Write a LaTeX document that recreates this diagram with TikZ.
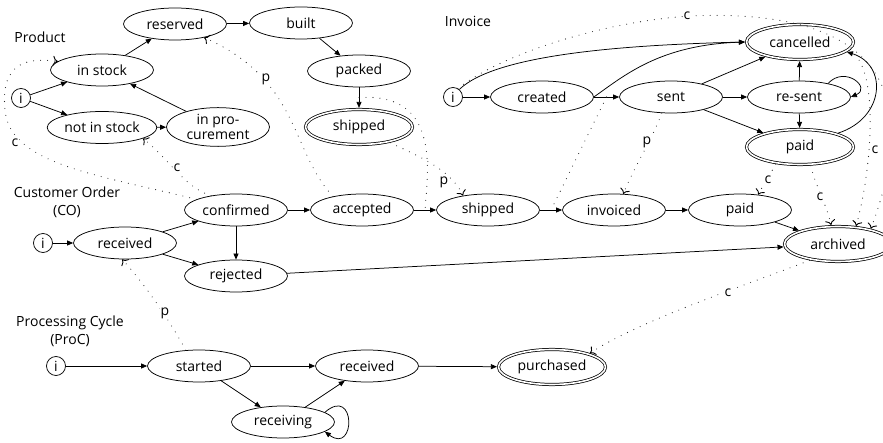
\documentclass[tikz,border=0pt]{standalone}
\usepackage{fontspec}
\setmainfont{Open Sans}
\usetikzlibrary{shapes.geometric,arrows.meta}
\newcommand\statefont{\fontsize{14}{15}\selectfont}
\begin{document}
\begin{tikzpicture}[x=1pt,y=1pt,
  state/.style={ellipse,draw,line width=0.75pt,minimum width=103pt,minimum height=32pt,inner sep=1pt,align=center,font=\statefont},
  final/.style={state,double,double distance=1.6pt,minimum width=107pt,minimum height=35pt,outer sep=1.6pt},
  init/.style={circle,draw,line width=0.75pt,minimum size=19pt,inner sep=0pt,font=\statefont},
  edge/.style={draw,line width=0.75pt,-{Triangle[length=6pt,width=5pt]}},
  link/.style={draw=black!85,line width=1.1pt,line cap=round,dash pattern=on 0pt off 7pt},
  sync/.style={link,-{Computer Modern Rightarrow[length=5pt,width=10pt,line width=0.9pt,black]}},
  lbl/.style={fill=white,inner sep=1pt,font=\statefont},
  title/.style={align=center,font=\fontsize{14}{18}\selectfont}
]
\useasboundingbox (0,0) rectangle (883,-443);

% ---------- Product ----------
\node[title] (tProduct) at (40,-37) {Product};
\node[init] (iP) at (21,-98) {i};
\node[state] (instock) at (102,-70) {in stock};
\node[state] (notinstock) at (102,-127.5) {not in stock};
\node[state,minimum height=35pt] (inproc) at (218,-127) {in pro-\\curement};
\node[state] (reserved) at (175,-24) {reserved};
\node[state] (built) at (301,-23) {built};
\node[state] (packed) at (359,-71) {packed};
\node[final] (shippedP) at (359,-127) {shipped};

\draw[edge] (iP) -- (instock);
\draw[edge] (iP) -- (notinstock);
\draw[edge] (instock) -- (reserved);
\draw[edge] (reserved) -- (built);
\draw[edge] (built) -- (packed);
\draw[edge] (packed) -- coordinate[midway] (tPacked) (shippedP);
\draw[edge] (notinstock) -- (inproc);
\draw[edge] (inproc) -- (instock);

% ---------- Invoice ----------
\node[title] (tInvoice) at (468,-21) {Invoice};
\node[init] (iI) at (453,-97) {i};
\node[state] (created) at (542,-97) {created};
\node[state] (sent) at (671,-97) {sent};
\node[state] (resent) at (799,-97) {re-sent};
\node[final] (cancelled) at (800,-42) {cancelled};
\node[final] (paidI) at (800,-147) {paid};

\draw[edge] (iI) -- (created);
\draw[edge] (iI.50) .. controls (495,-55) and (620,-45) .. (cancelled.west);
\draw[edge] (created) -- coordinate[midway] (tCreated) (sent);
\draw[edge] (created.east) .. controls (625,-75) and (660,-45) .. (cancelled.west);
\draw[edge] (sent) -- (cancelled);
\draw[edge] (sent) -- (resent);
\draw[edge] (sent) -- (paidI);
\draw[edge] (resent) -- (cancelled);
\draw[edge] (resent) -- (paidI);
\draw[edge] (resent.25) .. controls (845,-65) and (872,-88) .. (resent.east);
\draw[edge] (paidI.20) .. controls (885,-118) and (888,-65) .. (cancelled.-12);

% ---------- Customer Order ----------
\node[title] (tCO) at (67,-202) {Customer Order\\(CO)};
\node[init] (iC) at (43,-243) {i};
\node[state] (receivedC) at (125,-243) {received};
\node[state] (confirmed) at (236,-210) {confirmed};
\node[state] (rejected) at (236,-276) {rejected};
\node[state] (accepted) at (362,-210) {accepted};
\node[state] (shippedC) at (488,-210) {shipped};
\node[state] (invoiced) at (614,-210) {invoiced};
\node[state] (paidC) at (740,-210) {paid};
\node[final] (archived) at (838,-244) {archived};

\draw[edge] (iC) -- (receivedC);
\draw[edge] (receivedC) -- (confirmed);
\draw[edge] (receivedC) -- (rejected);
\draw[edge] (confirmed) -- (rejected);
\draw[edge] (confirmed) -- (accepted);
\draw[edge] (accepted) -- coordinate[midway] (tAccepted) (shippedC);
\draw[edge] (shippedC) -- coordinate[midway] (tShipped) (invoiced);
\draw[edge] (invoiced) -- (paidC);
\draw[edge] (paidC) -- (archived);
\draw[edge] (rejected) -- (archived);

% ---------- Processing Cycle ----------
\node[title] (tProC) at (70,-331) {Processing Cycle\\(ProC)};
\node[init] (iPC) at (56,-366) {i};
\node[state] (started) at (199,-366) {started};
\node[state] (receivedPC) at (367,-366) {received};
\node[state] (receiving) at (283,-422) {receiving};
\node[final] (purchased) at (552,-367) {purchased};

\draw[edge] (iPC) -- (started);
\draw[edge] (started) -- (receivedPC);
\draw[edge] (receivedPC) -- (purchased);
\draw[edge] (started) -- (receiving);
\draw[edge] (receiving) -- (receivedPC);
\draw[edge] (receiving.13) .. controls (356,-385) and (356,-455) .. (receiving.-13);

% ---------- synchronisation links ----------
\draw[sync] (confirmed.165) .. controls (100,-175) and (10,-165) .. (5,-110)
            .. controls (0,-60) and (30,-58) .. (instock.169);
\draw[sync] (confirmed.150) .. controls (185,-188) and (168,-158) .. (notinstock.-15);
\draw[sync] (accepted.155) .. controls (290,-150) and (300,-80) .. (reserved.-25);
\draw[link] (tPacked) .. controls (440,-92) and (428,-170) .. (tAccepted);
\draw[sync] (shippedP) .. controls (415,-155) and (450,-168) .. (shippedC.150);
\draw[link] (tCreated) -- (tShipped);
\draw[sync] (sent.-120) .. controls (652,-140) and (635,-165) .. (invoiced.60);
\draw[sync] (paidI.-145) .. controls (770,-175) and (763,-185) .. (paidC.40);
\draw[sync] (paidI.-60) .. controls (815,-185) and (825,-200) .. (archived.110);
\draw[sync] (cancelled.-10) .. controls (880,-65) and (872,-170) .. (archived.45);
\draw[sync] (iI.60) .. controls (500,-55) and (600,-22) .. (690,-16)
            .. controls (935,-5) and (900,-150) .. (archived.25);
\draw[sync] (archived.-150) .. controls (760,-280) and (640,-320) .. (purchased.20);
\draw[sync] (started.130) .. controls (175,-330) and (150,-290) .. (receivedC.-100);

% link labels
\node[lbl] (lc1) at (15,-143) {c};
\node[lbl] (lc2) at (177,-168) {c};
\node[lbl] (lp1) at (266,-79) {p};
\node[lbl] (lp2) at (444,-182) {p};
\node[lbl] (lp3) at (647,-142) {p};
\node[lbl] (lc3) at (768,-180) {c};
\node[lbl] (lc4) at (820,-197) {c};
\node[lbl] (lc5) at (875,-150) {c};
\node[lbl] (lc6) at (687,-16) {c};
\node[lbl] (lc7) at (728,-293) {c};
\node[lbl] (lp4) at (165,-313) {p};
\end{tikzpicture}
\end{document}
